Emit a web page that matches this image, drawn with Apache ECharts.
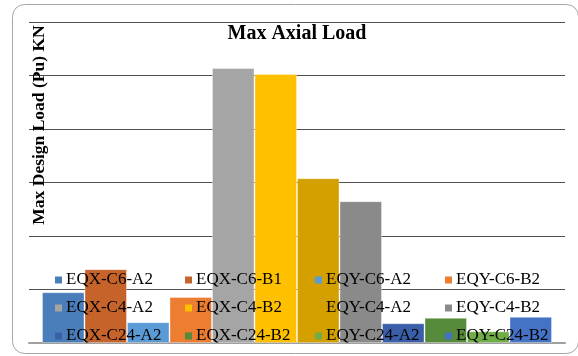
<!DOCTYPE html>
<html>
<head>
<meta charset="utf-8">
<script src="https://cdn.jsdelivr.net/npm/echarts@6/dist/echarts.min.js"></script>
<style>
  html, body { margin: 0; padding: 0; background: #fff; }
  #chart { width: 578px; height: 356px; }
</style>
</head>
<body>
<div id="chart"></div>
<script>
// Max design axial load (Pu, kN) per model case
const categories = ['Max Axial Load'];
const seriesNames = [
  'EQX-C6-A2', 'EQX-C6-B1', 'EQY-C6-A2', 'EQY-C6-B2',
  'EQX-C4-A2', 'EQX-C4-B2', 'EQY-C4-A2', 'EQY-C4-B2',
  'EQX-C24-A2', 'EQX-C24-B2', 'EQY-C24-A2', 'EQY-C24-B2'
];
const loadValues = [950, 1380, 390, 860, 5140, 5030, 3080, 2650, 370, 470, 220, 490];
const yTicks = [0, 1000, 2000, 3000, 4000, 5000, 6000];

const palette = [
  '#4a7ebb', '#c5632b', '#5b9bd5', '#ed7d31',
  '#a5a5a5', '#ffc000', '#d4a000', '#8a8a8a',
  '#3a5ea8', '#568b3b', '#70ad47', '#4472c4'
];

const chart = echarts.init(document.getElementById('chart'), null, { renderer: 'canvas' });

const series = seriesNames.map((name, i) => ({
  name: name,
  type: 'bar',
  data: [loadValues[i]],
  barGap: '0%',
  barCategoryGap: '4.85%',
  itemStyle: { color: palette[i], borderColor: 'rgba(255,255,255,0.35)', borderWidth: 1 },
  emphasis: { disabled: true }
}));

chart.setOption({
  animation: false,
  color: palette,
  title: {
    text: 'Max Axial Load',
    left: 292,
    top: 19,
    textAlign: 'center',
    textStyle: { fontFamily: 'Liberation Serif', fontWeight: 'bold', fontSize: 20, color: '#000' }
  },
  grid: { left: 29, right: 13, top: 22, bottom: 13 },
  xAxis: {
    type: 'category',
    data: categories,
    axisLine: { lineStyle: { color: '#a0a0a0', width: 2 } },
    axisTick: { show: false },
    axisLabel: { show: false }
  },
  yAxis: {
    type: 'value',
    min: yTicks[0],
    max: yTicks[yTicks.length - 1],
    interval: yTicks[1] - yTicks[0],
    axisLine: { show: false },
    axisTick: { show: false },
    axisLabel: { show: false },
    splitLine: { lineStyle: { color: '#505050', width: 1 } }
  },
  legend: {
    data: seriesNames,
    left: 55,
    top: 266,
    width: 540,
    orient: 'horizontal',
    itemWidth: 7,
    itemHeight: 7,
    itemGap: 0,
    padding: 0,
    icon: 'rect',
    selectedMode: false,
    itemStyle: { borderWidth: 0 },
    textStyle: {
      fontFamily: 'Liberation Serif',
      fontSize: 17,
      color: '#000',
      width: 119,
      lineHeight: 28,
      padding: [0, 0, 0, -1]
    }
  },
  graphic: [
    {
      type: 'rect',
      shape: { x: 12.5, y: 4.5, width: 566, height: 349, r: 12 },
      style: { fill: 'none', stroke: '#a6a6a6', lineWidth: 1 },
      z: -1,
      silent: true
    },
    {
      type: 'text',
      x: 39,
      y: 125,
      rotation: Math.PI / 2,
      style: {
        text: 'Max Design Load (Pu) KN',
        fontFamily: 'Liberation Serif',
        fontWeight: 'bold',
        fontSize: 17.5,
        fill: '#000',
        align: 'center',
        verticalAlign: 'middle'
      },
      z: 10,
      silent: true
    }
  ],
  series: series
});
</script>
</body>
</html>
